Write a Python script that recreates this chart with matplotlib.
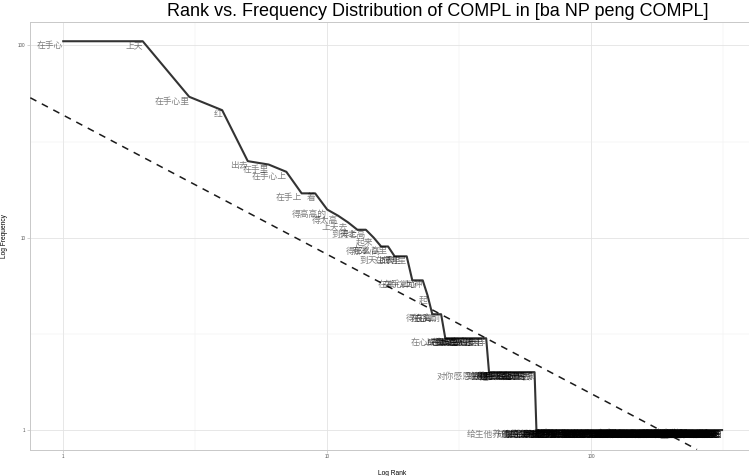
"""
Rank vs. frequency plot (log-log) of COMPL in [ba NP peng COMPL].
"""

import numpy as np
import matplotlib

matplotlib.use("Agg")
import matplotlib.pyplot as plt
from matplotlib.ticker import FixedLocator, NullFormatter

# --- data ---
head_labels = [
    "在手心", "上天", "在手心里", "红", "出去", "在手里", "在手心上", "在手上", "着",
    "得高高的", "得太高", "上天去", "到天上", "得老高", "起来", "得那么高", "在掌心里",
    "到天上去", "在怀里", "成明星", "在掌心上", "在手掌心", "为神", "起", "得很高",
    "在心上", "在胸前",
]
head_freqs = [105, 105, 54, 46, 25, 24, 22, 17, 17, 14, 13, 12, 11, 11, 10, 9, 9,
              8, 8, 8, 6, 6, 6, 5, 4, 4, 4]

# frequency levels of the long tail and how many ranks sit on each
tail_freqs = [3, 2, 1]
tail_counts = [13, 21, 252]

freq3_labels = "在心尖上 上神坛 成宝贝 在掌上 到极致 上了天 得高高 成公主 在头顶 在心里 进来 在手掌里 得像宝贝一样".split()
freq2_labels = ("对你感恩戴德 到手里 在手中 过头 得太过 成英雄 得更高 上台 到天边 得比天高 "
                "在手掌上 成了宝 出来 红了 在心头 到云端 在怀中 起来了 上去 到顶 成偶像").split()
freq1_labels = """
给生他养他的父母 在手掌中 成掌上明珠 上了天去 在心窝里 得高高在上 到天上去了 成宝 在掌心中 为宝贝 成小公主 在手心里疼
成明珠 上云霄 到高处 到天 为英雄 在头上 得太高了 在手心里宠 到九霄云外 成大明星 进怀里 在胸口
在双手里 在我手心 成国宝 在手掌心上 得老高老高 上天堂 上了高位 在怀抱里 在心头上 到手心里 得高 起来看
成女神 成男神 为圣人 为偶像 上神坛去 到神坛上 得更高些 在掌中 在手里面 在她手心 在他手心 到天上了
到心里 到手上 在掌心里疼 红了半边天 出名 成网红 上热搜 成顶流 到极点 到头 得要命 得不得了
得很好 得过高 得太好 得过头 成天才 为天才 成神童 为神童 在云端 在天上 在高处 在高台
上台面 上舞台 进娱乐圈 到舞台上 红起来 火了 火起来 到巅峰 到顶峰 到天花板 在手臂里 在臂弯里
在膝上 在腿上 在肩上 在肩头 到肩上 在头顶上 过头顶 到头顶 上肩头 在背上 在心坎上 在心尖尖上
成心肝 成心头肉 成宝贝疙瘩 为掌上明珠 成小太阳 为太阳 成月亮 上月亮 到月亮上 成星星 上星空 到星空
成了神 成了仙 为了他 给大家看 给观众 给世人 到世界 到全国 上全国 出国 出道 出圈
成角儿 成名角 为名角 成名人 为名人 成红人 红透 红遍全国 红遍大江南北 红到发紫 火遍全网 到爆
成爆款 得火热 得很火 得太火 起来了吧 到天涯 到海角 在水晶球里 在玻璃罩里 在温室里 在蜜罐里 在掌心呵护
得小心翼翼 得紧紧的 得牢牢的 得稳稳的 得好好的 得满满的 得暖暖的 得甜甜的 得宝贝似的 得跟宝一样 得像公主 得像王子
成王子 成皇帝 成女王 成国王 为王 为帝 为后 上王位 上宝座 到宝座上 坐上去 立起来
举起来 托起来 抬起来 高高举起 上了台 到台前 在台上 到前面 在前面 到前台 到中心 在中心
在中间 在正中 在上面 在高空 在半空 在空中 到空中 到半空 上半空 到云上 在云上 上云端
到云端之上 到天际 在天际 在天边 到天外 上天外 出天外 成天神 为天神 上天界 到天界 在天界
在神坛 在神龛 上神龛 进神龛 为神明 成神明 为圣 成圣 为佛 成佛 上佛坛 到佛前
在佛前 在眼前 到眼前 在面前 到面前 在身边 到身边 在身旁 在左右 在心中 到心中 在心底
到心底 在梦里 到梦里 在梦中 成梦想 为梦想 成理想 为理想 为榜样 成榜样 成楷模 为楷模
成典范 为典范 成标杆 为标杆 成代表 为代表 成模范 为模范 成先进 为先进 成领袖 为领袖
""".split()

# fitted power-law reference line: log10(freq) = a + b * log10(rank)
fit_intercept = 1.637
fit_slope = -0.724

x_ticks = [1, 10, 100]
y_ticks = [1, 10, 100]

title = "Rank vs. Frequency Distribution of COMPL in [ba NP peng COMPL]"

# --- assemble ---
labels = head_labels + freq3_labels + freq2_labels + freq1_labels
freqs = np.concatenate([head_freqs, np.repeat(tail_freqs, tail_counts)])
assert len(labels) == len(freqs)
ranks = np.arange(1, len(freqs) + 1)

plt.rcParams["font.family"] = ["Liberation Sans", "Noto Sans CJK SC", "DejaVu Sans"]

W, H = 749, 476
fig = plt.figure(figsize=(W / 100, H / 100), dpi=100)
left, right, top, bottom = 30.3, 755.0, 21.8, 449.5
ax = fig.add_axes([left / W, 1 - bottom / H, (right - left) / W, (bottom - top) / H])

ax.set_xscale("log")
ax.set_yscale("log")

# ggplot-style 5% expansion in log space
lx = np.log10(ranks.max())
ly = np.log10(freqs.max())
ax.set_xlim(10 ** (-0.05 * lx), 10 ** (1.05 * lx))
ax.set_ylim(10 ** (-0.05 * ly), 10 ** (1.05 * ly))

# grid
ax.xaxis.set_major_locator(FixedLocator(x_ticks))
ax.yaxis.set_major_locator(FixedLocator(y_ticks))
ax.xaxis.set_minor_locator(FixedLocator([10 ** 0.5, 10 ** 1.5, 10 ** 2.5]))
ax.yaxis.set_minor_locator(FixedLocator([10 ** 0.5, 10 ** 1.5]))
ax.xaxis.set_minor_formatter(NullFormatter())
ax.yaxis.set_minor_formatter(NullFormatter())
ax.set_xticklabels([str(t) for t in x_ticks])
ax.set_yticklabels([str(t) for t in y_ticks])
ax.grid(which="major", color="#e3e3e3", linewidth=0.6)
ax.grid(which="minor", color="#eeeeee", linewidth=0.35)
ax.set_axisbelow(True)
ax.tick_params(which="major", length=2.0, width=0.4, color="#b3b3b3",
               labelsize=3.3, labelcolor="#555555", pad=1.5)
ax.tick_params(which="minor", length=0)
for s in ax.spines.values():
    s.set_color("#c8c8c8")
    s.set_linewidth(0.7)

# frequency curve
ax.plot(ranks, freqs, color="#333333", linewidth=1.5, zorder=3)

# fitted reference line
ax.axline((1, 10 ** fit_intercept), (10, 10 ** (fit_intercept + fit_slope)),
          color="#1a1a1a", linewidth=1.1, linestyle=(0, (4.5, 4)), zorder=3)

# word labels
for r, f, lab in zip(ranks, freqs, labels):
    ax.text(r, f, lab, ha="right", va="top", fontsize=6.3, color="black",
            alpha=0.5, family=["Noto Sans CJK SC", "DejaVu Sans"], zorder=4)

ax.set_xlabel("Log Rank", fontsize=4.8, labelpad=4)
ax.set_ylabel("Log Frequency", fontsize=4.8, labelpad=4)
ax.xaxis.set_label_coords((392 - left) / (right - left), -(470 - bottom) / (bottom - top))
ax.yaxis.set_label_coords(-(left - 8) / (right - left), 0.5)

fig.text(438 / W, 1 - 11.5 / H, title, ha="center", va="center", fontsize=13)

fig.savefig("out.png", dpi=100)
